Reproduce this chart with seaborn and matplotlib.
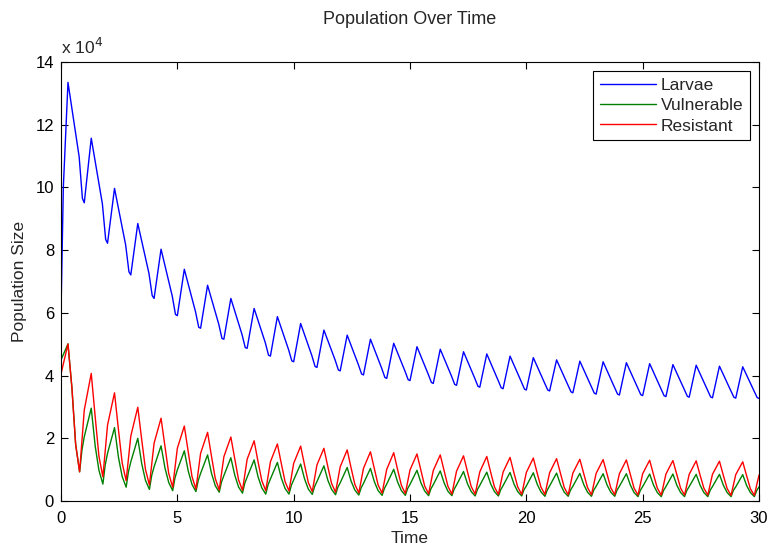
import numpy as np
import pandas as pd
import seaborn as sns
import matplotlib
matplotlib.use("Agg")
import matplotlib.pyplot as plt

# values, in units of 10^4
cycles = np.arange(30)

# Larvae: start, then per cycle peak / bend / low / trough
larvae_start_t = [0.0, 0.1]
larvae_start_v = [6.0, 10.0]
larvae_phase = [0.3, 0.78, 0.92, 1.0]
larvae_peak = [13.35, 11.57, 9.97, 8.85, 8.03, 7.39, 6.88, 6.46, 6.14, 5.88,
               5.66, 5.45, 5.29, 5.16, 5.03, 4.92, 4.84, 4.76, 4.69, 4.62,
               4.57, 4.50, 4.46, 4.44, 4.41, 4.38, 4.35, 4.33, 4.30, 4.28]
larvae_bend = [10.98, 9.47, 8.16, 7.26, 6.54, 6.04, 5.64, 5.31, 5.05, 4.83,
               4.64, 4.50, 4.35, 4.24, 4.15, 4.05, 3.99, 3.92, 3.86, 3.81,
               3.77, 3.71, 3.67, 3.64, 3.62, 3.59, 3.57, 3.55, 3.53, 3.52]
larvae_low = [9.65, 8.34, 7.31, 6.55, 5.95, 5.54, 5.18, 4.89, 4.65, 4.47,
              4.29, 4.18, 4.05, 3.94, 3.87, 3.78, 3.72, 3.66, 3.61, 3.57,
              3.54, 3.48, 3.44, 3.41, 3.39, 3.36, 3.34, 3.32, 3.31, 3.30]
larvae_trough = [9.51, 8.22, 7.21, 6.46, 5.91, 5.51, 5.16, 4.87, 4.62, 4.44,
                 4.26, 4.15, 4.02, 3.91, 3.84, 3.75, 3.69, 3.63, 3.58, 3.54,
                 3.51, 3.45, 3.41, 3.38, 3.36, 3.33, 3.31, 3.29, 3.28, 3.27]

# Vulnerable / Resistant: peak at k+0.3, decline, trough at k+0.8, rise to k+1
decline_phase = [0.3, 0.47, 0.63, 0.8]
red_start = 4.05
red_peak = [5.01, 4.07, 3.45, 2.99, 2.64, 2.39, 2.19, 2.04, 1.92, 1.82,
            1.75, 1.68, 1.63, 1.57, 1.54, 1.50, 1.47, 1.44, 1.42, 1.39,
            1.37, 1.35, 1.33, 1.32, 1.31, 1.30, 1.29, 1.28, 1.27, 1.25]
red_d1 = [3.60, 2.68, 2.27, 1.95, 1.72, 1.55, 1.42, 1.33, 1.25, 1.19,
          1.14, 1.09, 1.05, 1.02, 0.99, 0.97, 0.95, 0.93, 0.91, 0.89,
          0.88, 0.87, 0.86, 0.85, 0.84, 0.83, 0.83, 0.82, 0.81, 0.80]
red_d2 = [1.80, 1.43, 1.21, 1.01, 0.88, 0.78, 0.72, 0.68, 0.65, 0.62,
          0.59, 0.56, 0.53, 0.51, 0.50, 0.48, 0.47, 0.46, 0.45, 0.45,
          0.44, 0.43, 0.43, 0.42, 0.41, 0.41, 0.41, 0.41, 0.40, 0.39]
red_trough = [0.93, 0.77, 0.65, 0.51, 0.44, 0.38, 0.35, 0.34, 0.33, 0.32,
              0.30, 0.28, 0.26, 0.25, 0.24, 0.23, 0.22, 0.22, 0.21, 0.21,
              0.21, 0.20, 0.20, 0.20, 0.19, 0.19, 0.19, 0.19, 0.18, 0.18]
red_kink = [2.90, 2.42, 2.07, 1.84, 1.68, 1.52, 1.41, 1.33, 1.25, 1.20,
            1.15, 1.09, 1.04, 1.01, 0.99, 0.97, 0.95, 0.93, 0.92, 0.91,
            0.90, 0.89, 0.88, 0.87, 0.87, 0.86, 0.85, 0.85, 0.84, 0.83]

green_start = 4.50
green_peak = [5.01, 2.96, 2.34, 2.00, 1.76, 1.60, 1.47, 1.38, 1.31, 1.23,
              1.18, 1.12, 1.07, 1.04, 1.01, 0.98, 0.96, 0.94, 0.92, 0.91,
              0.90, 0.89, 0.88, 0.87, 0.87, 0.86, 0.86, 0.85, 0.85, 0.84]
green_d1 = [3.60, 1.75, 1.39, 1.19, 1.05, 0.95, 0.88, 0.82, 0.77, 0.73,
            0.70, 0.66, 0.63, 0.61, 0.60, 0.58, 0.57, 0.55, 0.54, 0.54,
            0.53, 0.52, 0.52, 0.51, 0.51, 0.50, 0.50, 0.50, 0.50, 0.49]
green_d2 = [1.80, 0.98, 0.78, 0.66, 0.59, 0.53, 0.49, 0.45, 0.42, 0.40,
            0.38, 0.37, 0.35, 0.33, 0.33, 0.32, 0.31, 0.30, 0.30, 0.30,
            0.29, 0.28, 0.28, 0.28, 0.27, 0.27, 0.27, 0.27, 0.27, 0.27]
green_trough = [0.93, 0.54, 0.44, 0.37, 0.33, 0.30, 0.28, 0.25, 0.22, 0.22,
                0.21, 0.20, 0.19, 0.18, 0.18, 0.17, 0.17, 0.16, 0.16, 0.16,
                0.15, 0.15, 0.15, 0.15, 0.14, 0.14, 0.14, 0.14, 0.14, 0.14]
green_mid = [1.62, 1.15, 0.94, 0.82, 0.74, 0.66, 0.61, 0.57, 0.52, 0.50,
             0.46, 0.44, 0.42, 0.40, 0.40, 0.39, 0.38, 0.37, 0.36, 0.36,
             0.35, 0.35, 0.35, 0.35, 0.34, 0.34, 0.34, 0.34, 0.34, 0.33]
green_kink = [2.05, 1.52, 1.25, 1.09, 0.99, 0.88, 0.81, 0.76, 0.70, 0.67,
              0.62, 0.58, 0.56, 0.54, 0.53, 0.52, 0.51, 0.50, 0.49, 0.48,
              0.48, 0.47, 0.47, 0.47, 0.46, 0.46, 0.46, 0.46, 0.45, 0.45]

# assemble the time series
larvae_t, larvae_v = list(larvae_start_t), list(larvae_start_v)
for k in cycles:
    larvae_t += [k + p for p in larvae_phase]
    larvae_v += [larvae_peak[k], larvae_bend[k], larvae_low[k], larvae_trough[k]]

red_t, red_v = [0.0], [red_start]
green_t, green_v = [0.0], [green_start]
for k in cycles:
    red_t += [k + p for p in decline_phase] + [k + 1.0]
    red_v += [red_peak[k], red_d1[k], red_d2[k], red_trough[k], red_kink[k]]
    green_t += [k + p for p in decline_phase] + [k + 0.9, k + 1.0]
    green_v += [green_peak[k], green_d1[k], green_d2[k], green_trough[k],
                green_mid[k], green_kink[k]]

larvae = pd.DataFrame({"Time": larvae_t, "Pop": larvae_v})
vuln = pd.DataFrame({"Time": green_t, "Pop": green_v})
resist = pd.DataFrame({"Time": red_t, "Pop": red_v})

sns.set_style("ticks")
plt.rcParams["font.family"] = ["Liberation Sans", "DejaVu Sans"]
plt.rcParams["xtick.direction"] = "in"
plt.rcParams["ytick.direction"] = "in"

fig = plt.figure(figsize=(7.69, 5.49), dpi=100)
ax = fig.add_axes([61 / 769, 48 / 549, 698 / 769, 439 / 549])

sns.lineplot(data=larvae, x="Time", y="Pop", color="#0000ff", lw=1.0,
             label="Larvae", estimator=None, sort=False, ax=ax)
sns.lineplot(data=vuln, x="Time", y="Pop", color="#008000", lw=1.0,
             label="Vulnerable", estimator=None, sort=False, ax=ax)
sns.lineplot(data=resist, x="Time", y="Pop", color="#ff0000", lw=1.0,
             label="Resistant", estimator=None, sort=False, ax=ax)

ax.set_xlim(0, 30)
ax.set_ylim(0, 14)
ax.set_xticks(range(0, 31, 5))
ax.set_yticks(range(0, 15, 2))
ax.tick_params(top=True, right=True, length=5, width=0.8, labelsize=12,
               colors="black")
ax.tick_params(axis="x", pad=7)
ax.tick_params(axis="y", pad=5)
for s in ax.spines.values():
    s.set_color("black")
    s.set_linewidth(0.8)

ax.set_title("Population Over Time", fontsize=13, pad=27)
ax.set_xlabel("Time", fontsize=12.5, labelpad=4)
ax.set_ylabel("Population Size", fontsize=12.5, labelpad=6)
ax.text(0.0, 1.012, r"x 10$^4$", transform=ax.transAxes, fontsize=12.5,
        ha="left", va="bottom")

leg = ax.legend(loc="upper right", fontsize=12.5, handlelength=3.2,
                handletextpad=0.3, labelspacing=0.3, borderpad=0.4,
                fancybox=False, framealpha=1, edgecolor="black")
leg.get_frame().set_linewidth(0.8)

fig.savefig("out.png", dpi=100)
